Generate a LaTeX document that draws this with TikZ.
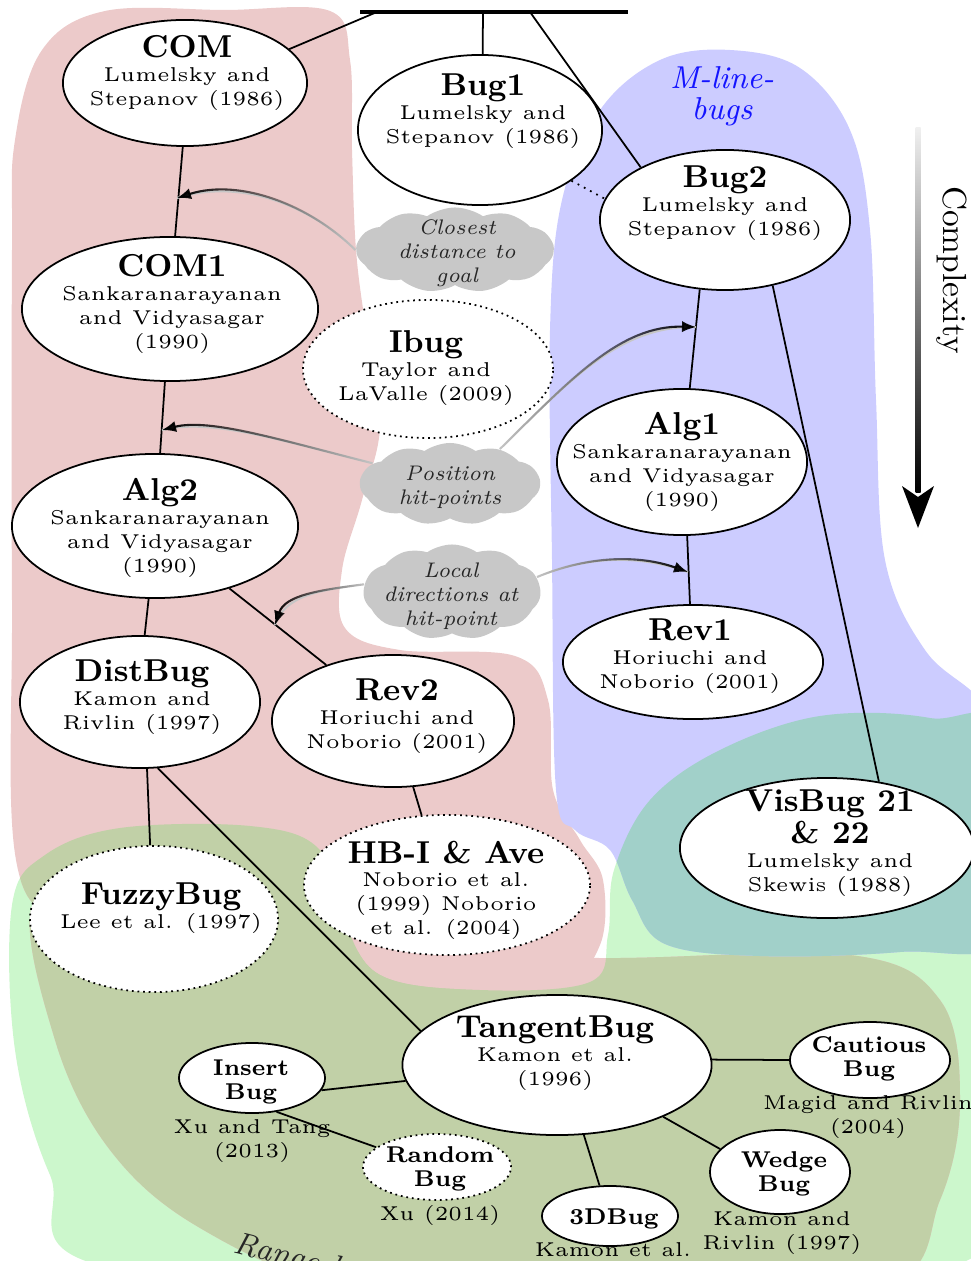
\documentclass[tikz,border=0pt]{standalone}
\usepackage{fontspec}
\usetikzlibrary{shapes.geometric,shapes.symbols,arrows.meta,fadings}
\newfontfamily\lmfive{lmroman5-regular.otf}
\definecolor{regPink}{RGB}{236,202,202}
\definecolor{regGreen}{RGB}{204,247,204}
\definecolor{regOlive}{RGB}{193,208,167}
\definecolor{regBlue}{RGB}{204,204,255}
\definecolor{regTeal}{RGB}{161,208,201}
\definecolor{cloudGray}{RGB}{200,200,200}
\definecolor{mlineBlue}{RGB}{20,20,255}
\newcommand\mysub{\lmfive\fontsize{5.7}{6.8}\selectfont}
\newcommand\mytitle[1]{{\rmfamily\fontsize{9}{9}\selectfont\bfseries #1}}
\newcommand\mysmall{\rmfamily\fontsize{6.5}{6.8}\selectfont\bfseries}
\newcommand\mycloudfont{\rmfamily\fontsize{6}{6.8}\selectfont\itshape}
\def\Ppath{plot[smooth cycle, tension=0.6] coordinates {(12,250) (15,140) (42,50) (105,11) (225,10) (330,11) (350,60) (352,150) (356,250) (366,330) (380,425) (362,500) (342,570) (345,628) (400,650) (515,656) (548,700) (553,790) (580,840) (603,880) (600,945) (560,982) (440,990) (330,985) (180,960) (70,925) (16,860) (12,600)}}
\def\Qpath{plot[smooth cycle, tension=0.6] coordinates {(35,900) (150,900) (350,950) (600,958) (850,955) (940,1000) (960,1100) (940,1200) (880,1290) (600,1320) (350,1290) (200,1228) (110,1150) (55,1040)}}
\def\Gpath{plot[smooth cycle, tension=0.6] coordinates {(12,905) (45,855) (120,828) (250,826) (318,848) (342,915) (380,975) (480,990) (590,982) (608,935) (614,870) (650,800) (720,750) (820,716) (930,718) (1010,750) (1010,1100) (985,1180) (955,1265) (600,1300) (110,1268) (50,1175) (15,1050)}}
\def\Bpath{plot[smooth cycle, tension=0.6] coordinates {(550,330) (562,200) (600,110) (660,60) (730,50) (800,68) (850,130) (870,230) (876,400) (885,560) (925,650) (980,700) (1010,760) (1010,935) (900,952) (760,956) (665,944) (632,900) (610,850) (575,830) (556,790) (552,560)}}
\begin{document}
\begin{tikzpicture}[x=0.01cm, y=-0.01cm,
  bug/.style={ellipse, draw, fill=white, line width=0.5pt, inner sep=0pt},
  dotbug/.style={bug, dash pattern=on 0.5pt off 1.1pt},
  btxt/.style={align=center, inner sep=0pt, anchor=north, font=\mysub},
  ltxt/.style={align=center, inner sep=0pt, font=\mysub},
  edge/.style={line width=0.5pt},
  cloudnode/.style={cloud, cloud puffs=11, cloud puff arc=70, cloud ignores aspect, fill=cloudGray, inner sep=0pt},
  ctxt/.style={align=center, inner sep=0pt, font=\mycloudfont, text=black!85},
  hint/.style={line width=0.6pt, -{Latex[length=4pt,width=3.2pt]}},
  faint/.style={line width=0.6pt, gray!45},
]
\useasboundingbox (0,0) rectangle (971,1261);
\clip (0,0) rectangle (971,1261);
% regions
\fill[regGreen] \Gpath;
\fill[regPink] \Ppath;
\fill[regPink] \Qpath;
\begin{scope}
  \clip \Gpath;
  \fill[regOlive] \Ppath;
  \fill[regOlive] \Qpath;
\end{scope}
\fill[regBlue] \Bpath;
\begin{scope}
  \clip \Gpath;
  \fill[regTeal] \Bpath;
\end{scope}

% nodes
\node[bug, minimum width=2.44cm, minimum height=1.26cm] (com) at (185,83) {};
\node[bug, minimum width=2.44cm, minimum height=1.50cm] (bug1) at (480,130) {};
\node[bug, minimum width=2.50cm, minimum height=1.40cm] (bug2) at (725,220) {};
\node[bug, minimum width=2.96cm, minimum height=1.44cm] (com1) at (170,309) {};
\node[dotbug, minimum width=2.50cm, minimum height=1.38cm] (ibug) at (428,369) {};
\node[bug, minimum width=2.50cm, minimum height=1.46cm] (alg1) at (682,462) {};
\node[bug, minimum width=2.86cm, minimum height=1.44cm] (alg2) at (155,526) {};
\node[bug, minimum width=2.60cm, minimum height=1.14cm] (rev1) at (693,662) {};
\node[bug, minimum width=2.40cm, minimum height=1.32cm] (distbug) at (140,702) {};
\node[bug, minimum width=2.42cm, minimum height=1.32cm] (rev2) at (393,721) {};
\node[dotbug, minimum width=2.86cm, minimum height=1.40cm] (hbi) at (447,885) {};
\node[dotbug, minimum width=2.48cm, minimum height=1.46cm] (fuzzy) at (154,919) {};
\node[bug, minimum width=2.94cm, minimum height=1.40cm] (visbug) at (827,848) {};
\node[bug, minimum width=3.09cm, minimum height=1.40cm] (tangent) at (557,1065) {};
\node[bug, minimum width=1.60cm, minimum height=0.76cm] (cautious) at (870,1060) {};
\node[bug, minimum width=1.46cm, minimum height=0.70cm] (insert) at (252,1078) {};
\node[dotbug, minimum width=1.48cm, minimum height=0.66cm] (random) at (437,1167) {};
\node[bug, minimum width=1.36cm, minimum height=0.60cm] (d3) at (610,1216) {};
\node[bug, minimum width=1.40cm, minimum height=0.84cm] (wedge) at (780,1172) {};

% top bar and root connectors
\coordinate (barL) at (360,12);
\coordinate (barR) at (628,12);
\coordinate (r1) at (377,12);
\coordinate (r2) at (483,12);
\coordinate (r3) at (530,12);
\draw[line width=1.3pt] (barL) -- (barR);
\draw[edge] (r1) -- (com.18);
\draw[edge] (r2) -- (bug1.88);
\draw[edge] (r3) -- (bug2.148);
\draw[edge, dash pattern=on 0.5pt off 1.5pt] (bug1.-29) -- (bug2.170);
\draw[edge] (com.-92) -- (com1.86);
\draw[edge] (com1.-94) -- (alg2.86);
\draw[edge] (alg2.-95) -- (distbug.86);
\draw[edge] (alg2.-40) -- (rev2.140);
\draw[edge] (distbug.-84) -- (fuzzy.93);
\draw[edge] (distbug.-75) -- (tangent.166);
\draw[edge] (rev2.-73) -- (hbi.110);
\draw[edge] (bug2.-110) -- (alg1.84);
\draw[edge] (bug2.-54) -- (visbug.52);
\draw[edge] (alg1.-86) -- (rev1.93);
\draw[edge] (tangent.2) -- (cautious.180);
\draw[edge] (tangent.186) -- (insert.-10);
\draw[edge] (insert.-54) -- (random.162);
\draw[edge] (tangent.-69) -- (d3.109);
\draw[edge] (tangent.-26) -- (wedge.159);

% clouds
\node[cloudnode, minimum width=1.97cm, minimum height=0.85cm] (c1) at (455,250) {};
\node[cloudnode, minimum width=1.80cm, minimum height=0.82cm] (c2) at (450,484) {};
\node[cloudnode, minimum width=1.77cm, minimum height=0.95cm] (c3) at (452,592) {};

% hint arrows
\coordinate (a1) at (177,198);
\coordinate (a2) at (162,430);
\coordinate (a3) at (275,625);
\coordinate (a4) at (696,327);
\coordinate (a5) at (688,572);
\draw[faint] (c1.west) .. controls (310,205) and (240,178) .. (a1);
\draw[hint, path fading=east] (c1.west) .. controls (310,205) and (240,178) .. (a1);
\draw[faint] (c2.165) .. controls (280,440) and (210,418) .. (a2);
\draw[hint, path fading=east] (c2.165) .. controls (280,440) and (210,418) .. (a2);
\draw[faint] (c3.175) .. controls (320,590) and (285,595) .. (a3);
\draw[hint, path fading=east] (c3.175) .. controls (320,590) and (285,595) .. (a3);
\draw[faint] (c2.35) .. controls (570,380) and (620,325) .. (a4);
\draw[hint, path fading=west] (c2.35) .. controls (570,380) and (620,325) .. (a4);
\draw[faint] (c3.10) .. controls (590,555) and (640,555) .. (a5);
\draw[hint, path fading=west] (c3.10) .. controls (590,555) and (640,555) .. (a5);

% cloud texts
\node[ctxt] (c1-t) at (457,253) {Closest\\distance to\\goal};
\node[ctxt] (c2-t) at (450,487) {Position\\hit-points};
\node[ctxt] (c3-t) at (451,596) {Local\\directions at\\hit-point};

% node texts
\node[btxt] (com-t) at (187,35) {\mytitle{COM}\\Lumelsky and\\Stepanov (1986)};
\node[btxt] (bug1-t) at (483,73) {\mytitle{Bug1}\\Lumelsky and\\Stepanov (1986)};
\node[btxt] (bug2-t) at (725,165) {\mytitle{Bug2}\\Lumelsky and\\Stepanov (1986)};
\node[btxt] (com1-t) at (172,254) {\mytitle{COM1}\\Sankaranarayanan\\and Vidyasagar\\(1990)};
\node[btxt] (ibug-t) at (426,330) {\mytitle{Ibug}\\Taylor and\\LaValle (2009)};
\node[btxt] (alg1-t) at (682,412) {\mytitle{Alg1}\\Sankaranarayanan\\and Vidyasagar\\(1990)};
\node[btxt] (alg2-t) at (160,478) {\mytitle{Alg2}\\Sankaranarayanan\\and Vidyasagar\\(1990)};
\node[btxt] (rev1-t) at (690,618) {\mytitle{Rev1}\\Horiuchi and\\Noborio (2001)};
\node[btxt] (distbug-t) at (142,659) {\mytitle{DistBug}\\Kamon and\\Rivlin (1997)};
\node[btxt] (rev2-t) at (397,678) {\mytitle{Rev2}\\Horiuchi and\\Noborio (2001)};
\node[btxt] (hbi-t) at (446,840) {\mytitle{HB-I \& Ave}\\Noborio et al.\\(1999) Noborio\\et al. (2004)};
\node[btxt] (fuzzy-t) at (161,882) {\mytitle{FuzzyBug}\\Lee et al. (1997)};
\node[btxt] (visbug-t) at (830,789) {\mytitle{VisBug 21}\\\mytitle{\& 22}\\Lumelsky and\\Skewis (1988)};
\node[btxt] (tangent-t) at (555,1015) {\mytitle{TangentBug}\\Kamon et al.\\(1996)};
\node[btxt, font=\mysmall] (cautious-t) at (869,1036) {Cautious\\Bug};
\node[btxt, font=\mysmall] (insert-t) at (251,1059) {Insert\\Bug};
\node[btxt, font=\mysmall] (random-t) at (440,1146) {Random\\Bug};
\node[btxt, font=\mysmall] (d3-t) at (614,1208) {3DBug};
\node[btxt, font=\mysmall] (wedge-t) at (784,1151) {Wedge\\Bug};

% labels under small nodes
\node[ltxt] (cautious-l) at (868,1117) {Magid and Rivlin\\(2004)};
\node[ltxt] (insert-l) at (252,1141) {Xu and Tang\\(2013)};
\node[ltxt] (random-l) at (440,1215) {Xu (2014)};
\node[ltxt] (d3-l) at (613,1250) {Kamon et al.};
\node[ltxt] (wedge-l) at (782,1233) {Kamon and\\Rivlin (1997)};

% group labels
\node[align=center, inner sep=0pt, font=\fontsize{9}{8.8}\selectfont\itshape, text=mlineBlue] (mline) at (722,96) {M-line-\\bugs};
\node[inner sep=0pt, font=\fontsize{9}{9}\selectfont\itshape, text=black!85, rotate=-14, anchor=base west] (rangelbl) at (232,1252) {Range-bugs};

% complexity arrow
\coordinate (cx1) at (918,128);
\coordinate (cx2) at (918,528);
\shade[top color=gray!12, bottom color=black] (915.5,128) rectangle (920.5,492);
\fill[black] (cx2) -- (902,486) -- (918,497) -- (934,486) -- cycle;
\node[rotate=-90, inner sep=0pt, font=\fontsize{9.5}{10}\selectfont] (cplx) at (952,270) {Complexity};
\end{tikzpicture}
\end{document}
